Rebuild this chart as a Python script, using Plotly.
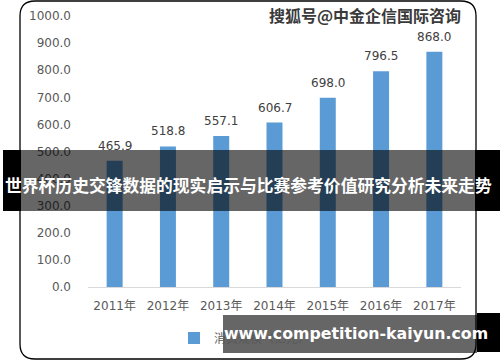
import plotly.graph_objects as go

years = ["2011年", "2012年", "2013年", "2014年", "2015年", "2016年", "2017年"]
values = [465.9, 518.8, 557.1, 606.7, 698.0, 796.5, 868.0]
series_name = "消费规模（亿元）"
banner_text = "世界杯历史交锋数据的现实启示与比赛参考价值研究分析未来走势"
watermark_text = "搜狐号@中金企信国际咨询"
footer_text = "www.competition-kaiyun.com"

W, H = 500, 362
PL, PR, PT, PB = 88, 461, 16, 287  # plot area pixel box


def px(x):
    return (x - PL) / (PR - PL)


def py(y):
    return (PB - y) / (PB - PT)


fig = go.Figure()
fig.add_trace(go.Bar(
    x=years, y=values, name=series_name,
    marker=dict(color="#5B9BD5", line=dict(width=0)),
    showlegend=True,
))

for yr, v in zip(years, values):
    fig.add_annotation(x=yr, y=v, xref="x", yref="y", text=f"{v:.1f}",
                       showarrow=False, yanchor="bottom", yshift=6,
                       font=dict(family="DejaVu Sans", size=12, color="#404040"))

shapes = []
# rounded border box
x0, x1, y0, y1, r = 20, 476, 1, 359, 15
path = (f"M {px(x0)},{py(y0 + r)} Q {px(x0)},{py(y0)} {px(x0 + r)},{py(y0)} "
        f"L {px(x1 - r)},{py(y0)} Q {px(x1)},{py(y0)} {px(x1)},{py(y0 + r)} "
        f"L {px(x1)},{py(y1 - r)} Q {px(x1)},{py(y1)} {px(x1 - r)},{py(y1)} "
        f"L {px(x0 + r)},{py(y1)} Q {px(x0)},{py(y1)} {px(x0)},{py(y1 - r)} Z")
shapes.append(dict(type="path", path=path, xref="paper", yref="paper",
                   line=dict(color="#000000", width=1.3), layer="above"))

# middle banner
shapes.append(dict(type="rect", xref="paper", yref="paper", x0=px(21), x1=px(475),
                   y0=py(211), y1=py(150), fillcolor="rgba(0,0,0,0.6)", line=dict(width=0), layer="above"))
shapes.append(dict(type="rect", xref="paper", yref="paper", x0=px(3), x1=px(21),
                   y0=py(211), y1=py(150), fillcolor="#000000", line=dict(width=0), layer="above"))
shapes.append(dict(type="rect", xref="paper", yref="paper", x0=px(475), x1=px(500),
                   y0=py(211), y1=py(150), fillcolor="#000000", line=dict(width=0), layer="above"))

# footer banner
shapes.append(dict(type="rect", xref="paper", yref="paper", x0=px(223), x1=px(477),
                   y0=py(353), y1=py(315), fillcolor="rgba(0,0,0,0.6)", line=dict(width=0), layer="above"))
shapes.append(dict(type="rect", xref="paper", yref="paper", x0=px(477), x1=px(500),
                   y0=py(352), y1=py(313), fillcolor="#000000", line=dict(width=0), layer="above"))

fig.add_annotation(x=px(248.5), y=py(185), xref="paper", yref="paper", text=f"<b>{banner_text}</b>",
                   showarrow=False, xanchor="center", yanchor="middle",
                   font=dict(family="Noto Sans CJK SC", size=16.8, color="#FFFFFF"))
fig.add_annotation(x=px(355.5), y=py(333), xref="paper", yref="paper", text=f"<b>{footer_text}</b>",
                   showarrow=False, xanchor="center", yanchor="middle",
                   font=dict(family="DejaVu Sans", size=15.8, color="#FFFFFF"))
fig.add_annotation(x=px(365), y=py(15), xref="paper", yref="paper", text=f"<b>{watermark_text}</b>",
                   showarrow=False, xanchor="center", yanchor="middle",
                   font=dict(family="Noto Sans CJK SC", size=16, color="#3a3a3a",
                             shadow="1px 1px 1px #ffffff"))

fig.update_layout(
    width=W, height=H,
    margin=dict(l=PL, r=W - PR, t=PT, b=H - PB, pad=0, autoexpand=False),
    paper_bgcolor="#FFFFFF", plot_bgcolor="#FFFFFF",
    bargap=0.7,
    shapes=shapes,
    font=dict(family="DejaVu Sans, Noto Sans CJK SC", size=12, color="#595959"),
    legend=dict(orientation="h", x=px(174), xanchor="left", y=py(338), yanchor="middle",
                font=dict(family="Noto Sans CJK SC", size=12, color="#595959"),
                bgcolor="rgba(0,0,0,0)"),
    xaxis=dict(showgrid=False, showline=True, linecolor="#D9D9D9", linewidth=1,
               ticks="", ticklabelstandoff=8,
               tickfont=dict(family="DejaVu Sans, Noto Sans CJK SC", size=12, color="#595959")),
    yaxis=dict(range=[0, 1000], dtick=100, tickformat=".1f", showgrid=False, zeroline=False,
               showline=False, ticks="", ticklabelstandoff=16,
               tickfont=dict(family="DejaVu Sans", size=12, color="#595959")),
)

fig.write_html("out.html", config={"displayModeBar": False},
               post_script="document.body.style.margin='0';")
